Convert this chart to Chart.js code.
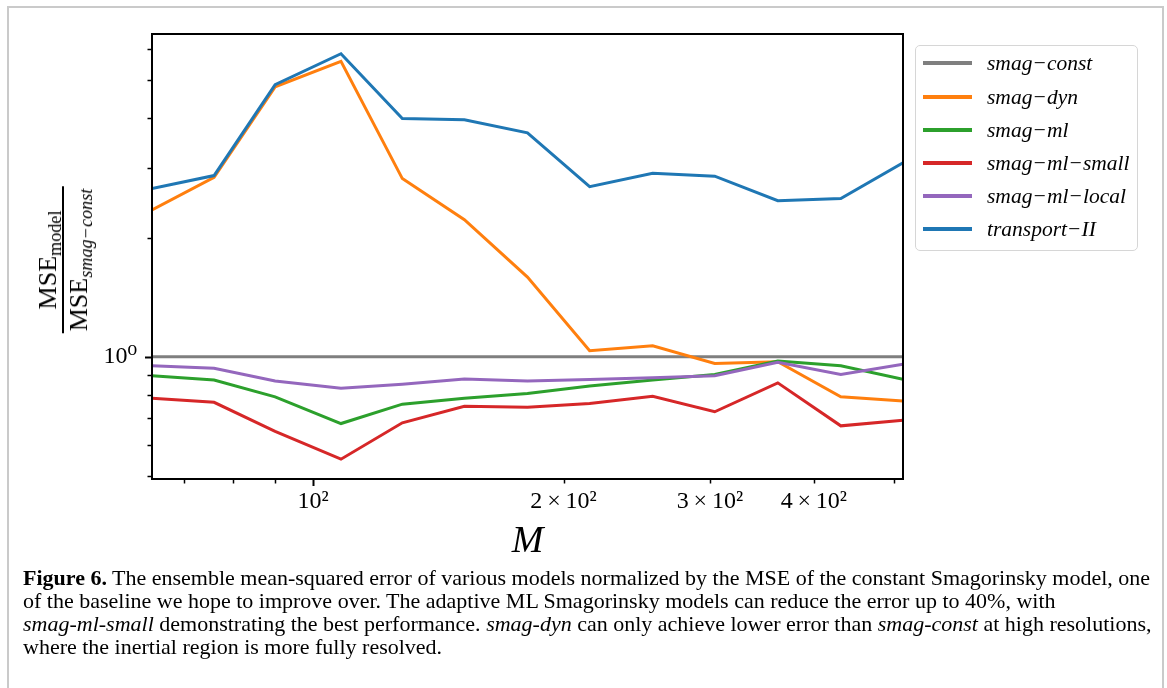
<!DOCTYPE html>
<html>
<head>
<meta charset="utf-8">
<script src="https://cdn.jsdelivr.net/npm/chart.js@4.4.1/dist/chart.umd.min.js"></script>
<style>
  body { margin: 0; background: #fff; }
  #fig { position: relative; width: 1167px; height: 688px; overflow: hidden; background: #fff;
         font-family: "Liberation Serif", "DejaVu Serif", serif; color: #000; }
  #frame { position: absolute; left: 7px; top: 6px; width: 1153px; height: 720px;
           border: 2px solid #cacaca; border-bottom: none; }
  #chart { position: absolute; left: 0; top: 0; }
  #ylab { position: absolute; left: 62.5px; top: 259.6px; transform: translate(-50%, -50%) rotate(-90deg);
          display: flex; flex-direction: column; align-items: center; font-size: 26px; white-space: nowrap; }
  #ylab .num { line-height: 29px; height: 29px; }
  #ylab .den { line-height: 29px; height: 29px; border-top: 2px solid #000; padding: 0 2px; }
  #ylab sub { font-size: 70%; vertical-align: -0.28em; line-height: 0; }
  #legend { position: absolute; left: 915px; top: 45px; width: 221px; height: 204px;
            border: 1.5px solid #d6d6d6; border-radius: 5px; }
  .lrow { position: absolute; left: 0; width: 100%; height: 0; }
  .lrow .sw { position: absolute; left: 7px; width: 49px; height: 4px; top: -2px; }
  .lrow .tx { position: absolute; left: 71px; top: -13px; line-height: 26px; font-size: 21.5px;
              font-style: italic; white-space: nowrap; }
  #caption { position: absolute; left: 23px; top: 566px; font-size: 22px; line-height: 23px; white-space: nowrap; }
</style>
</head>
<body>
<div id="fig">
  <div id="frame"></div>
  <canvas id="chart" width="1167" height="688"></canvas>
  <div id="ylab">
    <div class="num">MSE<sub>model</sub></div>
    <div class="den">MSE<sub><i>smag−const</i></sub></div>
  </div>
  <div id="legend"></div>
  <div id="caption">
    <div><b>Figure 6.</b> The ensemble mean-squared error of various models normalized by the MSE of the constant Smagorinsky model, one</div>
    <div>of the baseline we hope to improve over. The adaptive ML Smagorinsky models can reduce the error up to 40%, with</div>
    <div><i>smag-ml-small</i> demonstrating the best performance. <i>smag-dyn</i> can only achieve lower error than <i>smag-const</i> at high resolutions,</div>
    <div>where the inertial region is more fully resolved.</div>
  </div>
</div>
<script>
// grid resolutions M
const M = [64, 76, 90, 108, 128, 152, 181, 215, 256, 304, 362, 431, 512];

// MSE / MSE(smag-const)
const smagConst   = [1, 1, 1, 1, 1, 1, 1, 1, 1, 1, 1, 1, 1];
const smagDyn     = [2.35, 2.84, 4.81, 5.58, 2.82, 2.22, 1.59, 1.036, 1.066, 0.962, 0.971, 0.792, 0.773];
const smagMl      = [0.895, 0.873, 0.792, 0.678, 0.759, 0.785, 0.808, 0.843, 0.873, 0.902, 0.975, 0.949, 0.877];
const smagMlSmall = [0.785, 0.767, 0.648, 0.551, 0.681, 0.750, 0.745, 0.762, 0.795, 0.726, 0.859, 0.669, 0.691];
const smagMlLocal = [0.949, 0.935, 0.868, 0.832, 0.852, 0.878, 0.868, 0.876, 0.885, 0.895, 0.968, 0.902, 0.958];
const transport2  = [2.66, 2.87, 4.87, 5.83, 4.00, 3.97, 3.68, 2.69, 2.91, 2.86, 2.48, 2.51, 3.09];

const seriesNames  = ["smag−const", "smag−dyn", "smag−ml", "smag−ml−small", "smag−ml−local", "transport−II"];
const seriesValues = [smagConst, smagDyn, smagMl, smagMlSmall, smagMlLocal, transport2];
const seriesColors = ["#7f7f7f", "#ff7f0e", "#2ca02c", "#d62728", "#9467bd", "#1f77b4"];

// ticks
const xTicks = [70, 80, 90, 100, 200, 300, 400, 500];
const xTickLabels = ["", "", "", "10²", "2\u2009×\u200910²", "3\u2009×\u200910²", "4\u2009×\u200910²", ""];
const xMajor = [100];
const yTicks = [0.5, 0.6, 0.7, 0.8, 0.9, 1, 2, 3, 4, 5, 6];
const yTickLabels = ["", "", "", "", "", "10⁰", "", "", "", "", ""];
const yMajor = [1];

const FONT = "'Liberation Serif', 'DejaVu Serif', serif";

// axes frame + matplotlib-style outward ticks
const axisBox = {
  id: "axisBox",
  afterDatasetsDraw(chart){
    const { ctx, chartArea: a, scales: { x, y } } = chart;
    ctx.save();
    ctx.strokeStyle = "#000";
    ctx.lineCap = "butt";
    xTicks.forEach(v => {
      const px = Math.round(x.getPixelForValue(v)) + 0.5;
      const major = xMajor.includes(v);
      ctx.lineWidth = major ? 2 : 1.5;
      ctx.beginPath();
      ctx.moveTo(px, a.bottom);
      ctx.lineTo(px, a.bottom + (major ? 7 : 4.5));
      ctx.stroke();
    });
    yTicks.forEach(v => {
      const py = Math.round(y.getPixelForValue(v)) + 0.5;
      const major = yMajor.includes(v);
      ctx.lineWidth = major ? 2 : 1.5;
      ctx.beginPath();
      ctx.moveTo(a.left, py);
      ctx.lineTo(a.left - (major ? 7 : 4.5), py);
      ctx.stroke();
    });
    ctx.lineWidth = 2;
    ctx.strokeRect(a.left, a.top, a.right - a.left, a.bottom - a.top);
    ctx.restore();
  }
};

const datasets = seriesNames.map((name, i) => ({
  label: name,
  data: M.map((m, j) => ({ x: m, y: seriesValues[i][j] })),
  borderColor: seriesColors[i],
  backgroundColor: seriesColors[i],
  borderWidth: 3,
  pointRadius: 0,
  tension: 0,
  fill: false,
  clip: 0,
  order: seriesNames.length - i   // last series drawn on top, like matplotlib
}));

new Chart(document.getElementById("chart").getContext("2d"), {
  type: "line",
  data: { datasets },
  options: {
    responsive: false,
    animation: false,
    events: [],
    layout: { padding: { left: 0, top: 34, right: 264, bottom: 119 } },
    plugins: { legend: { display: false }, tooltip: { enabled: false } },
    scales: {
      x: {
        type: "logarithmic",
        min: 64, max: 512,
        afterBuildTicks: s => { s.ticks = xTicks.map(v => ({ value: v })); },
        afterFit: s => { s.height = 90; },
        grid: { display: false, drawTicks: false },
        border: { display: false },
        ticks: {
          autoSkip: false, maxRotation: 0, minRotation: 0, padding: 8,
          color: "#000", font: { family: FONT, size: 24 },
          callback: (v, i) => xTickLabels[i]
        },
        title: {
          display: true, text: "M", color: "#000",
          font: { family: FONT, size: 38, style: "italic" },
          padding: { top: 0, bottom: 4 }
        }
      },
      y: {
        type: "logarithmic",
        min: 0.491, max: 6.54,
        afterBuildTicks: s => { s.ticks = yTicks.map(v => ({ value: v })); },
        afterFit: s => { s.width = 152; },
        grid: { display: false, drawTicks: false },
        border: { display: false },
        ticks: {
          autoSkip: false, padding: 15,
          color: "#000", font: { family: FONT, size: 24 },
          callback: (v, i) => yTickLabels[i]
        }
      }
    }
  },
  plugins: [axisBox]
});

// legend box (matplotlib places it outside the axes, top right)
const legend = document.getElementById("legend");
const rowTops = [17.3, 50.5, 83.7, 116.9, 150.1, 183.3];
seriesNames.forEach((name, i) => {
  const row = document.createElement("div");
  row.className = "lrow";
  row.style.top = rowTops[i] + "px";
  row.innerHTML = `<div class="sw" style="background:${seriesColors[i]}"></div><div class="tx">${name}</div>`;
  legend.appendChild(row);
});
</script>
</body>
</html>
